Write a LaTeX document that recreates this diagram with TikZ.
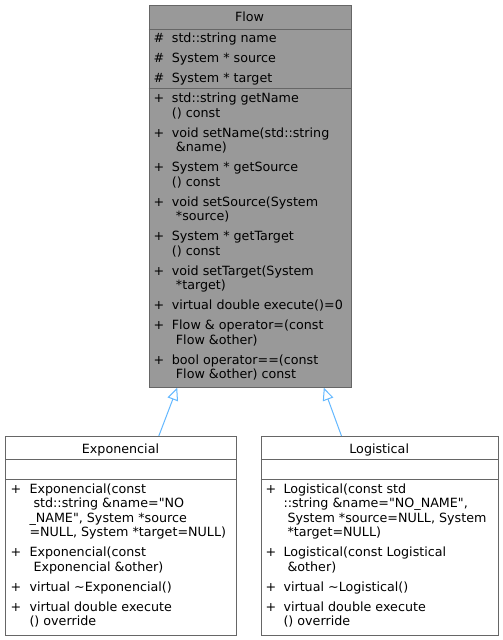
\documentclass[tikz,border=0pt]{standalone}
\usepackage{fontspec}
\setmainfont{DejaVu Sans}[Ligatures=TeXOff]
\usetikzlibrary{arrows.meta}
\definecolor{edgeblue}{HTML}{63B8FF}
\definecolor{boxline}{HTML}{666666}
\definecolor{boxfill}{HTML}{999999}
\newcommand\dfs{\fontsize{12.7}{14.5}\selectfont}
\begin{document}
\begin{tikzpicture}[x=1pt,y=-1pt,
  box/.style={draw=boxline, line width=1pt, rectangle, inner sep=0, anchor=north west},
  sep/.style={draw=boxline, line width=1pt},
  txt/.style={anchor=base west, inner sep=0, font=\dfs},
  vis/.style={anchor=base, inner sep=0, font=\dfs},
  ttl/.style={anchor=base, inner sep=0, font=\dfs},
  inh/.style={draw=edgeblue, line width=1pt, -{Triangle[open, length=12.5pt, width=11pt]}}]
\useasboundingbox[fill=white] (0,0) rectangle (503,640);

% boxes
\node[box, fill=boxfill, minimum width=202.2pt, minimum height=382.2pt] (flow) at (148.5,4.5) {};
\node[box, fill=white, minimum width=231pt, minimum height=199pt] (expo) at (5,436) {};
\node[box, fill=white, minimum width=237pt, minimum height=199pt] (logi) at (260.7,436) {};

% separators
\draw[sep] (flow.west |- 0,29) -- (flow.east |- 0,29);
\draw[sep] (flow.west |- 0,88) -- (flow.east |- 0,88);
\draw[sep] (expo.west |- 0,459.3) -- (expo.east |- 0,459.3);
\draw[sep] (expo.west |- 0,479) -- (expo.east |- 0,479);
\draw[sep] (logi.west |- 0,459.3) -- (logi.east |- 0,459.3);
\draw[sep] (logi.west |- 0,479) -- (logi.east |- 0,479);

% Flow
\node[ttl] (ft) at (249.6,21.7) {Flow};
\node[vis] (fa1v) at (159,42.5) {\#};
\node[txt] (fa1) at (171.7,42.5) {std::string name};
\node[vis] (fa2v) at (159,62.5) {\#};
\node[txt] (fa2) at (171.7,62.5) {System * source};
\node[vis] (fa3v) at (159,82.5) {\#};
\node[txt] (fa3) at (171.7,82.5) {System * target};

\node[vis] (fm1v) at (159,102.8) {+};
\node[txt] (fm1a) at (171.7,102.8) {std::string getName};
\node[txt] (fm1b) at (171.7,117.3) {() const};
\node[vis] (fm2v) at (159,137.3) {+};
\node[txt] (fm2a) at (171.7,137.3) {void setName(std::string};
\node[txt] (fm2b) at (171.7,151.8) {\ \&name)};
\node[vis] (fm3v) at (159,171.8) {+};
\node[txt] (fm3a) at (171.7,171.8) {System * getSource};
\node[txt] (fm3b) at (171.7,186.3) {() const};
\node[vis] (fm4v) at (159,206.3) {+};
\node[txt] (fm4a) at (171.7,206.3) {void setSource(System};
\node[txt] (fm4b) at (171.7,220.8) {\ *source)};
\node[vis] (fm5v) at (159,240.8) {+};
\node[txt] (fm5a) at (171.7,240.8) {System * getTarget};
\node[txt] (fm5b) at (171.7,255.3) {() const};
\node[vis] (fm6v) at (159,275.3) {+};
\node[txt] (fm6a) at (171.7,275.3) {void setTarget(System};
\node[txt] (fm6b) at (171.7,289.8) {\ *target)};
\node[vis] (fm7v) at (159,309.8) {+};
\node[txt] (fm7a) at (171.7,309.8) {virtual double execute()=0};
\node[vis] (fm8v) at (159,329.8) {+};
\node[txt] (fm8a) at (171.7,329.8) {Flow \& operator=(const};
\node[txt] (fm8b) at (171.7,344.3) {\ Flow \&other)};
\node[vis] (fm9v) at (159,364.3) {+};
\node[txt] (fm9a) at (171.7,364.3) {bool operator==(const};
\node[txt] (fm9b) at (171.7,378.8) {\ Flow \&other) const};

% Exponencial
\node[ttl] (et) at (120.5,453.3) {Exponencial};
\node[vis] (em1v) at (16,493.3) {+};
\node[txt] (em1a) at (29.3,493.3) {Exponencial(const};
\node[txt] (em1b) at (29.3,507.8) {\ std::string \&name="NO};
\node[txt] (em1c) at (29.3,522.3) {\_NAME", System *source};
\node[txt] (em1d) at (29.3,536.8) {=NULL, System *target=NULL)};
\node[vis] (em2v) at (16,556.8) {+};
\node[txt] (em2a) at (29.3,556.8) {Exponencial(const};
\node[txt] (em2b) at (29.3,571.3) {\ Exponencial \&other)};
\node[vis] (em3v) at (16,591.3) {+};
\node[txt] (em3a) at (29.3,591.3) {virtual \textasciitilde Exponencial()};
\node[vis] (em4v) at (16,611.3) {+};
\node[txt] (em4a) at (29.3,611.3) {virtual double execute};
\node[txt] (em4b) at (29.3,625.8) {() override};

% Logistical
\node[ttl] (lt) at (379.2,453.3) {Logistical};
\node[vis] (lm1v) at (271,493.3) {+};
\node[txt] (lm1a) at (283.3,493.3) {Logistical(const std};
\node[txt] (lm1b) at (283.3,507.8) {::string \&name="NO\_NAME",};
\node[txt] (lm1c) at (283.3,522.3) {\ System *source=NULL, System};
\node[txt] (lm1d) at (283.3,536.8) {\ *target=NULL)};
\node[vis] (lm2v) at (271,556.8) {+};
\node[txt] (lm2a) at (283.3,556.8) {Logistical(const Logistical};
\node[txt] (lm2b) at (283.3,571.3) {\ \&other)};
\node[vis] (lm3v) at (271,591.3) {+};
\node[txt] (lm3a) at (283.3,591.3) {virtual \textasciitilde Logistical()};
\node[vis] (lm4v) at (271,611.3) {+};
\node[txt] (lm4a) at (283.3,611.3) {virtual double execute};
\node[txt] (lm4b) at (283.3,625.8) {() override};

% inheritance
\draw[inh] ([xshift=37.8pt]expo.north) -- ([xshift=-72.9pt]flow.south);
\draw[inh] ([xshift=-38.2pt]logi.north) -- ([xshift=73.7pt]flow.south);
\end{tikzpicture}
\end{document}
